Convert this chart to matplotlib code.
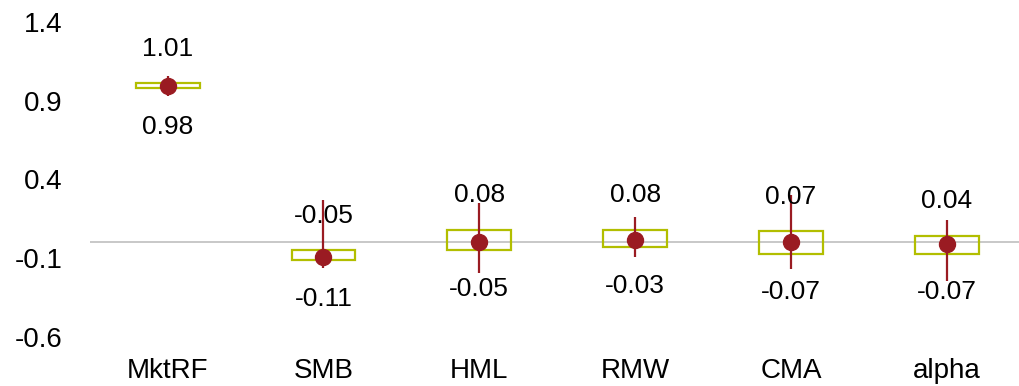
import matplotlib
matplotlib.use("Agg")
import matplotlib.pyplot as plt

# factor loadings: interquartile box, whisker range and centre estimate
factors = ["MktRF", "SMB", "HML", "RMW", "CMA", "alpha"]
box_low = [0.98, -0.11, -0.05, -0.03, -0.07, -0.07]
box_high = [1.01, -0.05, 0.08, 0.08, 0.07, 0.04]
whisk_low = [0.93, -0.165, -0.195, -0.095, -0.17, -0.245]
whisk_high = [1.055, 0.27, 0.25, 0.16, 0.30, 0.14]
centre = [0.995, -0.09, 0.0, 0.015, 0.005, -0.01]
y_ticks = [-0.6, -0.1, 0.4, 0.9, 1.4]

BOX_COLOR = "#B2BE00"
DOT_COLOR = "#9A1B22"
ZERO_COLOR = "#C4C4C4"

plt.rcParams["font.family"] = ["Liberation Sans", "DejaVu Sans"]

fig = plt.figure(figsize=(10.2, 3.86), dpi=100)
ax = fig.add_axes([0.088, 0.127, 0.912, 0.816])

pos = list(range(len(factors)))

ax.axhline(0, color=ZERO_COLOR, linewidth=1.3, zorder=1)
ax.bar(
    pos,
    [h - l for h, l in zip(box_high, box_low)],
    bottom=box_low,
    width=0.41,
    fill=False,
    edgecolor=BOX_COLOR,
    linewidth=1.6,
    zorder=2,
)
ax.vlines(pos, whisk_low, whisk_high, color=DOT_COLOR, linewidth=1.6, zorder=3)
ax.plot(pos, centre, "o", color=DOT_COLOR, markersize=11.5, zorder=4)

for x, lo, hi in zip(pos, box_low, box_high):
    ax.annotate(f"{hi:.2f}", (x, hi), xytext=(0, 25), textcoords="offset points",
                ha="center", va="center", fontsize=19, zorder=5)
    ax.annotate(f"{lo:.2f}", (x, lo), xytext=(0, -28), textcoords="offset points",
                ha="center", va="center", fontsize=19, zorder=5)

ax.set_xlim(-0.5, 5.47)
ax.set_ylim(-0.6, 1.4)
ax.set_xticks(pos, factors)
ax.set_yticks(y_ticks, [f"{v:g}" for v in y_ticks])
ax.tick_params(axis="both", length=0, labelsize=20)
ax.tick_params(axis="y", pad=19.5)
ax.tick_params(axis="x", pad=15)
for s in ax.spines.values():
    s.set_visible(False)

fig.savefig("out.png", dpi=100)
